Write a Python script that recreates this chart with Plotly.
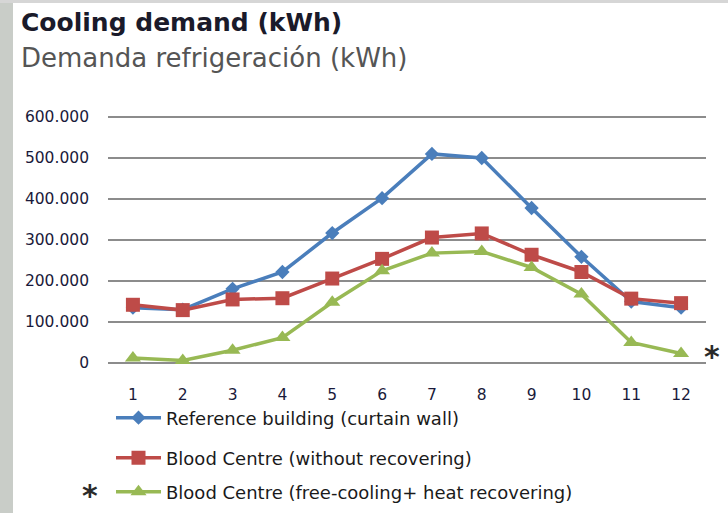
import plotly.graph_objects as go

months = [1, 2, 3, 4, 5, 6, 7, 8, 9, 10, 11, 12]
reference_building = [135000, 130000, 181000, 222000, 317000, 402000, 510000, 500000, 378000, 259000, 150000, 135000]
blood_no_recovery = [142000, 129000, 155000, 158000, 206000, 254000, 306000, 316000, 264000, 222000, 157000, 146000]
blood_free_cooling = [12000, 6000, 31000, 62000, 148000, 225000, 268000, 272000, 233000, 168000, 50000, 23000]
y_tick_vals = [0, 100000, 200000, 300000, 400000, 500000, 600000]
y_tick_text = ["0", "100.000", "200.000", "300.000", "400.000", "500.000", "600.000"]
names = ["Reference building (curtain wall)", "Blood Centre (without recovering)",
         "Blood Centre (free-cooling+ heat recovering)"]

W, H = 728, 513
PAD = 10  # extra pixels above/below the grid
ML, MR, MT, MB = 108, 22, 117 - PAD, 150 - PAD
PW, PH = W - ML - MR, H - MT - MB
units_per_px = 600000 / (PH - 2 * PAD)
y_range = [-PAD * units_per_px, 600000 + PAD * units_per_px]

def px_x(px):
    return (px - ML) / PW

def px_y(py):
    return 1 - (py - MT) / PH

fig = go.Figure()
fig.add_trace(go.Scatter(x=months, y=reference_building, name=names[0], mode="lines+markers",
                         line=dict(color="#4a7ebb", width=3.5),
                         marker=dict(symbol="diamond", size=11, color="#4a7ebb"),
                         cliponaxis=False, legend="legend", showlegend=True))
fig.add_trace(go.Scatter(x=months, y=blood_no_recovery, name=names[1], mode="lines+markers",
                         line=dict(color="#be4b48", width=3.5),
                         marker=dict(symbol="square", size=14, color="#be4b48"),
                         cliponaxis=False, legend="legend2", showlegend=True))
fig.add_trace(go.Scatter(x=months, y=blood_free_cooling, name=names[2], mode="lines+markers",
                         line=dict(color="#98b954", width=3.5),
                         marker=dict(symbol="triangle-up", size=14, color="#98b954"),
                         cliponaxis=False, legend="legend3", showlegend=True))

tick_font = dict(family="DejaVu Sans", size=15.5, color="#1a1a3a")
leg_common = dict(xref="paper", yref="paper", xanchor="left", yanchor="middle",
                  bgcolor="rgba(0,0,0,0)", font=dict(family="DejaVu Sans", size=18, color="#1a1a1a"),
                  itemwidth=45)

fig.update_layout(
    width=W, height=H,
    showlegend=True,
    margin=dict(l=ML, r=MR, t=MT, b=MB, autoexpand=False),
    paper_bgcolor="white", plot_bgcolor="white",
    legend=dict(x=px_x(111), y=px_y(418), **leg_common),
    legend2=dict(x=px_x(111), y=px_y(458), **leg_common),
    legend3=dict(x=px_x(111), y=px_y(492), **leg_common),
    xaxis=dict(range=[0.5, 12.5], tickvals=months, showgrid=False, zeroline=False, showline=False,
               ticks="", ticklabelstandoff=20 - PAD, tickangle=0, tickfont=tick_font),
    yaxis=dict(range=y_range, tickvals=y_tick_vals, ticktext=y_tick_text,
               showgrid=True, gridcolor="#8c8c8c", gridwidth=1.5,
               zeroline=True, zerolinecolor="#8c8c8c", zerolinewidth=1.5, showline=False,
               ticks="", ticklabelstandoff=18, tickfont=tick_font),
    annotations=[
        dict(text="<b>Cooling demand (kWh)</b>", xref="paper", yref="paper",
             x=px_x(19), y=px_y(22), xanchor="left", yanchor="middle", showarrow=False,
             font=dict(family="DejaVu Sans", size=25, color="#1a1a2a")),
        dict(text="Demanda refrigeración (kWh)", xref="paper", yref="paper",
             x=px_x(19), y=px_y(58), xanchor="left", yanchor="middle", showarrow=False,
             font=dict(family="DejaVu Sans", size=26, color="#555555")),
        dict(text="<b>*</b>", xref="paper", yref="paper",
             x=px_x(712), y=px_y(356), xanchor="center", yanchor="middle", showarrow=False,
             font=dict(family="DejaVu Sans", size=30, color="#2a2a2a")),
        dict(text="<b>*</b>", xref="paper", yref="paper",
             x=px_x(90), y=px_y(495), xanchor="center", yanchor="middle", showarrow=False,
             font=dict(family="DejaVu Sans", size=30, color="#2a2a2a")),
    ],
    shapes=[
        dict(type="rect", xref="paper", yref="paper",
             x0=px_x(0), x1=px_x(13), y0=px_y(H), y1=px_y(0),
             fillcolor="#c9cdc8", line=dict(width=0), layer="below"),
        dict(type="rect", xref="paper", yref="paper",
             x0=px_x(0), x1=px_x(W), y0=px_y(3), y1=px_y(0),
             fillcolor="#d6d6d6", line=dict(width=0), layer="below"),
    ],
)

fig.write_html("out.html", config={"displayModeBar": False},
               post_script="document.body.style.margin='0';document.body.style.overflow='hidden';")
